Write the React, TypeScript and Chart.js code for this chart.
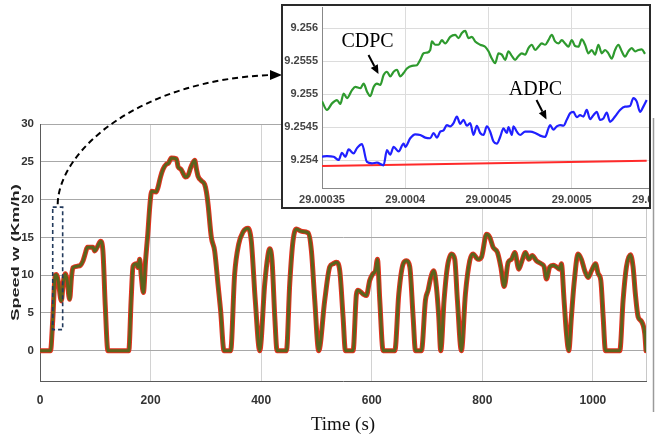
import React, { useEffect, useRef } from 'react';
import { Chart, registerables } from 'chart.js';

Chart.register(...registerables);

// ---------- main chart data ----------
const speedTime = [
  0, 19, 23, 27.5, 29.5, 33, 38.6, 42, 45.8, 49, 53.6, 57, 59.7, 68.7, 73, 77.8, 82, 85.6, 95.8, 98.8,
  104.8, 109.6, 113.8, 118, 122.8, 160.5, 165, 168.3, 174.3, 177.3, 180.3, 183, 187, 191, 195, 199,
  202, 210, 213, 218, 222.5, 228.6, 232, 237.6, 246.6, 250, 255, 258.7, 263, 267.7, 273, 279.8, 283,
  285.8, 291.8, 297.8, 301, 303.9, 309.9, 315.9, 321.9, 326.7, 332.8, 344.8, 352, 359.3, 367.1, 376.2,
  382.2, 389.4, 397.4, 406.5, 412, 415.5, 419.7, 424.6, 428.8, 445.7, 451.7, 457.7, 463.7, 472.8,
  484.9, 490.9, 496.9, 504.1, 515, 524, 530, 536.1, 542.1, 548.1, 552.4, 566.2, 572.3, 575.3, 584.3,
  590.3, 596.3, 602.3, 606.7, 610.3, 614.5, 620.6, 641.7, 648.9, 656.8, 662.8, 668.8, 674.8, 679.1,
  689.9, 697.1, 701.9, 706.8, 712.2, 717, 721.2, 724.8, 730.8, 736.8, 744.1, 750.1, 754.9, 762.1,
  769.4, 777.2, 783.2, 792.3, 798.5, 807.5, 813.5, 819.5, 827.4, 833.4, 839.5, 846.7, 852.7, 858.7,
  866, 870.8, 878, 884.1, 890.1, 897.9, 906.9, 911.8, 916, 922, 928, 934, 940, 943, 947.8, 952.1,
  956.3, 961.1, 965.9, 973.2, 979.2, 985.2, 991.2, 997.5, 1004.7, 1009.5, 1014.3, 1018.5, 1022.7,
  1048.6, 1054.6, 1060.6, 1067.8, 1072.6, 1076.8, 1081.7, 1087.7, 1093.7, 1096,
];
const speedValue = [
  0, 0, 4, 10, 10.1, 9.2, 6.6, 9, 10.2, 9.3, 6.8, 9.8, 11, 11.2, 11.3, 11.9, 12.9, 13.7, 13.7, 13.2,
  13.9, 14.5, 13.2, 6, 0, 0, 7, 11.2, 11.5, 11, 12.1, 10, 7.7, 12, 15.5, 19.5,
  21.1, 21, 21.5, 23, 24, 24.7, 24.8, 25.5, 25.4, 24.3, 24, 23.5, 23, 23.2, 24.3, 25.2, 24,
  23.1, 22.5, 22, 21, 19.4, 15, 13.2, 8.8, 5.3, 0, 0, 10.1, 14.1, 15.7, 16.2,
  14.5, 6.6, 0, 8.9, 12.5, 13.5, 11.9, 4.5, 0, 0, 8.9, 14.6, 16.1, 15.8,
  15.6, 13.2, 6.7, 0, 6.7, 11.1, 11.5, 11.7, 10.6, 4.5, 0, 0, 7.5, 8, 7.5,
  7.3, 9.3, 10.2, 10.6, 12.1, 6.7, 0, 0, 7.5, 11.5, 11.9, 11.1, 4.5, 0,
  0, 6.7, 8, 9.7, 10.6, 8.4, 4.5, 0, 6.7, 11.1, 12.8, 12.1, 6.7, 0,
  7.5, 11.9, 12.8, 12.1, 12.4, 15.4, 15, 13.7, 13, 11.1, 8.5, 11.7, 12.1, 13,
  10.8, 11.7, 13, 12.1, 12.6, 11.9, 11.5, 11.1, 9.5, 11.1, 11.3, 11.1, 10.8, 11.5, 6.7, 2.3,
  0, 4.5, 8.9, 12.8, 12.1, 10.6, 9.7, 10.6, 11.5, 10.2, 9.3, 4.5, 0,
  0, 6.7, 11.1, 12.7, 11.1, 7.5, 4.5, 3.9, 2.3, 0,
];
const mainXTicks = [0, 200, 400, 600, 800, 1000];
const mainYTicks = [0, 5, 10, 15, 20, 25, 30];
const zoomBoxTime = [23, 41];
const zoomBoxSpeed = [2.8, 19];

// ---------- inset data ----------
const insetGreenTime = [
  29.00035, 29.000353, 29.000356, 29.000359, 29.000361, 29.000363, 29.000365, 29.000368, 29.00037,
  29.000373, 29.000375, 29.000377, 29.000379, 29.000381, 29.000383, 29.000385, 29.000387, 29.000389,
  29.000391, 29.000393, 29.000395, 29.000397, 29.000399, 29.000401, 29.000404, 29.000407, 29.000409,
  29.000411, 29.000413, 29.000415, 29.000416, 29.000418, 29.00042, 29.000422, 29.000424, 29.000427,
  29.00043, 29.000432, 29.000434, 29.000436, 29.000438, 29.00044, 29.000442, 29.000445, 29.000448,
  29.00045, 29.000452, 29.000454, 29.000456, 29.000458, 29.00046, 29.000462, 29.000464, 29.000466,
  29.000468, 29.00047, 29.000472, 29.000474, 29.000476, 29.000478, 29.00048, 29.000482, 29.000484,
  29.000486, 29.000488, 29.00049, 29.000492, 29.000494, 29.000496, 29.000498, 29.0005, 29.000502,
  29.000504, 29.000506, 29.000508, 29.00051, 29.000512, 29.000514, 29.000516, 29.000518, 29.00052,
  29.000522, 29.000524, 29.000526, 29.000528, 29.00053, 29.000532, 29.000534, 29.000536, 29.000538,
  29.00054, 29.000542, 29.000544,
];
const insetGreenValue = [
  9.25489, 9.25476, 9.25486, 9.25491, 9.25485, 9.25501, 9.25494, 9.25506, 9.25511,
  9.25509, 9.25516, 9.25504, 9.25497, 9.25511, 9.25516, 9.25514, 9.25529, 9.25534,
  9.25527, 9.25534, 9.25537, 9.25527, 9.25532, 9.25539, 9.25543, 9.25544, 9.25552,
  9.25562, 9.25563, 9.25567, 9.2558, 9.25575, 9.25575, 9.25582, 9.25577, 9.25587,
  9.2559, 9.25585, 9.25593, 9.25596, 9.25585, 9.25587, 9.2558, 9.25575, 9.25572,
  9.25565, 9.25554, 9.25547, 9.25562, 9.2556, 9.25552, 9.25565, 9.25558, 9.25552,
  9.25558, 9.25562, 9.2556, 9.2557, 9.25575, 9.25567, 9.25572, 9.25577, 9.25575,
  9.25582, 9.2559, 9.2558, 9.25577, 9.25582, 9.25577, 9.25572, 9.25582, 9.25573,
  9.25572, 9.25583, 9.25575, 9.25562, 9.25567, 9.2556, 9.25575, 9.25562, 9.25567,
  9.25562, 9.25554, 9.25567, 9.25575, 9.25565, 9.25557, 9.25565, 9.2557, 9.25565,
  9.25567, 9.25568, 9.25561,
];
const insetBlueTime = [
  29.00035, 29.000353, 29.000357, 29.00036, 29.000362, 29.000364, 29.000366, 29.000369, 29.000371,
  29.000374, 29.000377, 29.00038, 29.000383, 29.000387, 29.000389, 29.000391, 29.000393, 29.000396,
  29.000399, 29.0004, 29.000403, 29.000406, 29.000409, 29.000412, 29.000415, 29.000417, 29.000419,
  29.000421, 29.000423, 29.000425, 29.000427, 29.000429, 29.000431, 29.000433, 29.000435, 29.000437,
  29.000439, 29.000441, 29.000443, 29.000445, 29.000447, 29.000449, 29.000451, 29.000453, 29.000455,
  29.000457, 29.000459, 29.000461, 29.000462, 29.000464, 29.000465, 29.000467, 29.000469, 29.000472,
  29.000475, 29.000478, 29.000481, 29.000484, 29.000486, 29.000487, 29.000489, 29.000491, 29.000493,
  29.000495, 29.000497, 29.000499, 29.000501, 29.000503, 29.000505, 29.000507, 29.000509, 29.000511,
  29.000513, 29.000515, 29.000517, 29.000519, 29.000521, 29.000523, 29.000526, 29.000529, 29.000532,
  29.000535, 29.000537, 29.000539, 29.000541, 29.000543, 29.000545,
];
const insetBlueValue = [
  9.25405, 9.25406, 9.25405, 9.254, 9.25411, 9.25405, 9.25416, 9.2541, 9.25418,
  9.25424, 9.25397, 9.25395, 9.25396, 9.25392, 9.25415, 9.25408, 9.2542, 9.25413,
  9.25425, 9.2542, 9.25433, 9.25439, 9.25438, 9.25434, 9.25433, 9.25441, 9.25434,
  9.25443, 9.25445, 9.25453, 9.25451, 9.25456, 9.25466, 9.25455, 9.25461, 9.25452,
  9.25456, 9.25438, 9.25452, 9.25441, 9.25438, 9.25451, 9.25443, 9.25428, 9.25425,
  9.25435, 9.25448, 9.25441, 9.2545, 9.25438, 9.25451, 9.25443, 9.25438, 9.25443,
  9.25443, 9.25441, 9.25437, 9.25435, 9.25448, 9.25453, 9.25446, 9.25451, 9.25453,
  9.25452, 9.25461, 9.25471, 9.25473, 9.25465, 9.25468, 9.25466, 9.25476, 9.25462,
  9.25468, 9.25473, 9.25461, 9.25463, 9.25472, 9.25458, 9.25466, 9.25476, 9.25481,
  9.25482, 9.25494, 9.25489, 9.25473, 9.25481, 9.25491,
];
const insetRedTime = [29.00035, 29.000545];
const insetRedValue = [9.25391, 9.25399];
const insetXTicks = [29.00035, 29.0004, 29.00045, 29.0005, 29.00055];
const insetYTicks = [9.254, 9.2545, 9.255, 9.2555, 9.256];

const SANS = '"Liberation Sans", Arial, sans-serif';
const SERIF = '"Liberation Serif", "Times New Roman", serif';

const toPoints = (xs: number[], ys: number[]) => xs.map((x, i) => ({ x, y: ys[i] }));

function arrow(ctx: CanvasRenderingContext2D, x1: number, y1: number, x2: number, y2: number, head: number, width: number) {
  const ang = Math.atan2(y2 - y1, x2 - x1);
  const bx = x2 - head * Math.cos(ang);
  const by = y2 - head * Math.sin(ang);
  ctx.beginPath();
  ctx.moveTo(x1, y1);
  ctx.lineTo(bx, by);
  ctx.stroke();
  ctx.beginPath();
  ctx.moveTo(x2, y2);
  ctx.lineTo(bx + (width / 2) * Math.sin(ang), by - (width / 2) * Math.cos(ang));
  ctx.lineTo(bx - (width / 2) * Math.sin(ang), by + (width / 2) * Math.cos(ang));
  ctx.closePath();
  ctx.fill();
}

const mainDecor = {
  id: 'mainDecor',
  afterDraw(chart: any) {
    const ctx: CanvasRenderingContext2D = chart.ctx;
    const xs = chart.scales.x;
    const ys = chart.scales.y;
    const area = chart.chartArea;
    ctx.save();
    // right box edge
    ctx.strokeStyle = '#c8c8c8';
    ctx.lineWidth = 1;
    ctx.beginPath();
    ctx.moveTo(area.right + 0.5, area.top);
    ctx.lineTo(area.right + 0.5, area.bottom);
    ctx.stroke();
    // scan artefact line on the far right
    ctx.strokeStyle = '#9a9a9a';
    ctx.lineWidth = 1.5;
    ctx.beginPath();
    ctx.moveTo(653.5, 118);
    ctx.lineTo(653.5, 412);
    ctx.stroke();
    // y axis title (tall, narrow lettering as in the source figure)
    ctx.save();
    ctx.translate(16, (area.top + area.bottom) / 2);
    ctx.rotate(-Math.PI / 2);
    ctx.scale(1.3, 0.72);
    ctx.font = `bold 14px ${SANS}`;
    ctx.fillStyle = '#222';
    ctx.textAlign = 'center';
    ctx.textBaseline = 'middle';
    ctx.fillText('Speed w (Km/h)', 0, 0);
    ctx.restore();
    // dashed zoom box
    const bx0 = xs.getPixelForValue(zoomBoxTime[0]);
    const bx1 = xs.getPixelForValue(zoomBoxTime[1]);
    const by0 = ys.getPixelForValue(zoomBoxSpeed[1]);
    const by1 = ys.getPixelForValue(zoomBoxSpeed[0]);
    ctx.strokeStyle = '#223a5c';
    ctx.lineWidth = 1.6;
    ctx.setLineDash([4, 3]);
    ctx.strokeRect(bx0, by0, bx1 - bx0, by1 - by0);
    // dashed curved arrow to the inset
    const sx = (bx0 + bx1) / 2;
    const sy = by0 - 3;
    ctx.strokeStyle = '#000';
    ctx.lineWidth = 2;
    ctx.setLineDash([6, 4]);
    ctx.beginPath();
    ctx.moveTo(sx, sy);
    ctx.bezierCurveTo(sx + 1, 150, 140, 80, 271, 75);
    ctx.stroke();
    ctx.setLineDash([]);
    ctx.fillStyle = '#000';
    ctx.beginPath();
    ctx.moveTo(282, 75);
    ctx.lineTo(270, 70);
    ctx.lineTo(270, 80);
    ctx.closePath();
    ctx.fill();
    ctx.restore();
  },
};

const insetDecor = {
  id: 'insetDecor',
  afterDraw(chart: any) {
    const ctx: CanvasRenderingContext2D = chart.ctx;
    ctx.save();
    ctx.fillStyle = '#000';
    ctx.strokeStyle = '#000';
    ctx.font = `20px ${SERIF}`;
    ctx.textAlign = 'center';
    ctx.textBaseline = 'middle';
    ctx.fillText('CDPC', 84.5, 42);
    ctx.fillText('ADPC', 252.5, 89.5);
    ctx.lineWidth = 2;
    arrow(ctx, 85.5, 55, 95.5, 74, 9, 8);
    arrow(ctx, 253.5, 100, 263.5, 119.5, 9, 8);
    ctx.restore();
  },
};

export default function App() {
  const mainRef = useRef<HTMLCanvasElement>(null);
  const insetRef = useRef<HTMLCanvasElement>(null);

  useEffect(() => {
    const speedPts = toPoints(speedTime, speedValue);
    const refPts = toPoints(speedTime, speedValue);
    const main = new Chart(mainRef.current as HTMLCanvasElement, {
      type: 'line',
      data: {
        datasets: [
          {
            label: 'Speed w', data: speedPts, borderColor: '#5b641c', borderWidth: 3, pointRadius: 0,
            cubicInterpolationMode: 'monotone', borderJoinStyle: 'round', borderCapStyle: 'round',
          },
          {
            label: 'Reference', data: refPts, borderColor: '#e2321f', borderWidth: 5, pointRadius: 0,
            cubicInterpolationMode: 'monotone', borderJoinStyle: 'round', borderCapStyle: 'round',
          },
        ],
      },
      options: {
        responsive: false,
        animation: false,
        layout: { padding: { left: 0, top: 124, right: 10, bottom: 0 } },
        plugins: { legend: { display: false }, tooltip: { enabled: false } },
        scales: {
          x: {
            type: 'linear',
            min: 0,
            max: 1096,
            afterBuildTicks: (a: any) => { a.ticks = mainXTicks.map((v) => ({ value: v })); },
            afterFit: (s: any) => { s.height = 60; s.paddingLeft = 0; s.paddingRight = 0; },
            grid: { color: '#d2d2d2', drawTicks: false, lineWidth: 1 },
            border: { color: '#5a5a5a', width: 1 },
            ticks: {
              padding: 12, color: '#333', autoSkip: false, maxRotation: 0,
              font: { family: SANS, size: 12, weight: 'bold' },
              callback: (v: any) => String(v),
            },
            title: {
              display: true, text: 'Time (s)', color: '#111',
              font: { family: SERIF, size: 19, weight: 'normal' },
              padding: { top: 0, bottom: 5 },
            },
          },
          y: {
            type: 'linear',
            min: -4,
            max: 30,
            afterBuildTicks: (a: any) => { a.ticks = mainYTicks.map((v) => ({ value: v })); },
            afterFit: (s: any) => { s.width = 40; s.paddingTop = 0; s.paddingBottom = 0; },
            grid: { color: '#a8a8a8', drawTicks: false, lineWidth: 1 },
            border: { color: '#5a5a5a', width: 1 },
            ticks: {
              padding: 6, color: '#333',
              font: { family: SANS, size: 11.5, weight: 'bold' },
              callback: (v: any) => String(v),
            },
          },
        },
      },
      plugins: [mainDecor],
    } as any);

    const inset = new Chart(insetRef.current as HTMLCanvasElement, {
      type: 'line',
      data: {
        datasets: [
          {
            label: 'CDPC', data: toPoints(insetGreenTime, insetGreenValue), borderColor: '#2e9a2e', borderWidth: 2.2,
            pointRadius: 0, cubicInterpolationMode: 'monotone',
          },
          {
            label: 'ADPC', data: toPoints(insetBlueTime, insetBlueValue), borderColor: '#2020ff', borderWidth: 2.2,
            pointRadius: 0, cubicInterpolationMode: 'monotone',
          },
          {
            label: 'Reference', data: toPoints(insetRedTime, insetRedValue), borderColor: '#ff2a2a', borderWidth: 2,
            pointRadius: 0, tension: 0,
          },
        ],
      },
      options: {
        responsive: false,
        animation: false,
        layout: { padding: { left: 0, top: 7, right: 28, bottom: 0 } },
        plugins: { legend: { display: false }, tooltip: { enabled: false } },
        scales: {
          x: {
            type: 'linear',
            min: 29.00035,
            max: 29.00055,
            afterBuildTicks: (a: any) => { a.ticks = insetXTicks.map((v) => ({ value: v })); },
            afterFit: (s: any) => { s.height = 21; s.paddingLeft = 0; s.paddingRight = 0; },
            grid: { color: '#dcdcdc', drawTicks: false },
            border: { color: '#888', width: 1 },
            ticks: {
              padding: 5, color: '#444', autoSkip: false, maxRotation: 0,
              font: { family: SANS, size: 11, weight: 'bold' },
              callback: (v: any) => String(+Number(v).toFixed(5)),
            },
          },
          y: {
            type: 'linear',
            min: 9.253575,
            max: 9.256323,
            afterBuildTicks: (a: any) => { a.ticks = insetYTicks.map((v) => ({ value: v })); },
            afterFit: (s: any) => { s.width = 39; s.paddingTop = 0; s.paddingBottom = 0; },
            grid: { color: '#dcdcdc', drawTicks: false },
            border: { color: '#888', width: 1 },
            ticks: {
              padding: 4, color: '#444',
              font: { family: SANS, size: 11, weight: 'bold' },
              callback: (v: any) => String(+Number(v).toFixed(4)),
            },
          },
        },
      },
      plugins: [insetDecor],
    } as any);

    return () => {
      main.destroy();
      inset.destroy();
    };
  }, []);

  return (
    <div style={{ position: 'fixed', left: 0, top: 0, width: 656, height: 441, background: '#fff', overflow: 'hidden' }}>
      <canvas ref={mainRef} width={656} height={441} style={{ position: 'absolute', left: 0, top: 0, width: 656, height: 441 }} />
      <div
        style={{
          position: 'absolute', left: 281, top: 4, width: 370, height: 205,
          border: '2px solid #2a2a2a', boxSizing: 'border-box', overflow: 'hidden', background: '#fff',
        }}
      >
        <canvas ref={insetRef} width={400} height={209} style={{ position: 'absolute', left: 0, top: -6, width: 400, height: 209 }} />
      </div>
    </div>
  );
}
